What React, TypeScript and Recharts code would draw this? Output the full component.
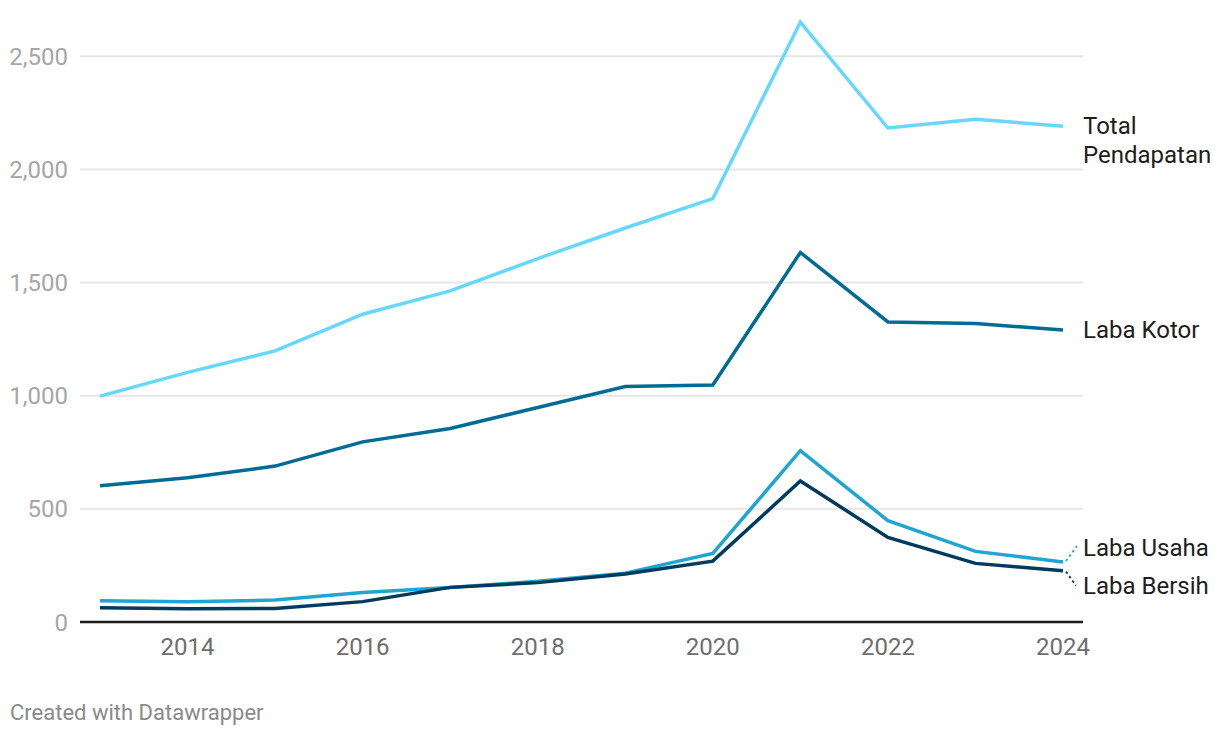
import { CartesianGrid, Line, LineChart, XAxis, YAxis } from "recharts";

const years = [2013, 2014, 2015, 2016, 2017, 2018, 2019, 2020, 2021, 2022, 2023, 2024];
const totalPendapatan = [998, 1103, 1198, 1360, 1463, 1606, 1741, 1871, 2651, 2183, 2222, 2191];
const labaKotor = [602, 637, 689, 796, 855, 948, 1041, 1047, 1633, 1326, 1319, 1290];
const labaUsaha = [94, 90, 97, 130, 152, 180, 216, 303, 757, 448, 312, 265];
const labaBersih = [63, 59, 60, 90, 153, 174, 212, 269, 623, 374, 259, 227];
const yTicks = [0, 500, 1000, 1500, 2000, 2500];
const xTicks = [2014, 2016, 2018, 2020, 2022, 2024];
const yMax = 2700;

const data = years.map((year, i) => ({
  year,
  total: totalPendapatan[i],
  kotor: labaKotor[i],
  usaha: labaUsaha[i],
  bersih: labaBersih[i],
}));

const FONT = "Roboto, 'Noto Sans', sans-serif";
const last = years.length - 1;

type LabelOpts = {
  lines: string[];
  dy: number;
  connector?: "up" | "down";
  color: string;
};

function endLabel(opts: LabelOpts) {
  return (props: any) => {
    const { x, y, index } = props;
    if (index !== last || x == null || y == null) return <g key={`e-${index}`} />;
    const tx = x + 20;
    return (
      <g key={`e-${index}`}>
        {opts.connector === "up" && (
          <line x1={x + 3} y1={y - 1} x2={x + 14} y2={y - 16} stroke={opts.color} strokeWidth={1.8} strokeDasharray="2.5 3" />
        )}
        {opts.connector === "down" && (
          <line x1={x + 3} y1={y + 1} x2={x + 13} y2={y + 15} stroke={opts.color} strokeWidth={1.8} strokeDasharray="2.5 3" />
        )}
        <text x={tx} y={y + opts.dy} fill="#1d1d1d" fontSize={24} fontFamily={FONT}>
          {opts.lines.map((l, i) => (
            <tspan key={l} x={tx} dy={i === 0 ? 0 : 28.5}>
              {l}
            </tspan>
          ))}
        </text>
      </g>
    );
  };
}

// grid only at the labelled ticks (skip the plot's top edge)
const gridRows = ({ offset }: any) => {
  const top = offset?.top ?? 11;
  const h = offset?.height ?? 611;
  return yTicks.map((t) => top + h * (1 - t / yMax));
};

export default function App() {
  return (
    <div style={{ position: "fixed", left: 0, top: 0, width: 1220, height: 738, background: "#fff", fontFamily: FONT }}>
      <LineChart width={1220} height={738} data={data} margin={{ top: 11, right: 137, bottom: 86, left: 0 }}>
        <CartesianGrid vertical={false} stroke="#e6e6e6" strokeWidth={2} horizontalCoordinatesGenerator={gridRows} />
        <XAxis
          dataKey="year"
          type="number"
          domain={[2013, 2024]}
          ticks={xTicks}
          padding={{ left: 20, right: 20 }}
          axisLine={{ stroke: "#1d1d1d", strokeWidth: 2.5 }}
          tickLine={false}
          tickSize={0}
          tickMargin={16}
          tick={{ fontSize: 24, fill: "#6e6e6e", fontFamily: FONT }}
        />
        <YAxis
          width={80}
          domain={[0, yMax]}
          ticks={yTicks}
          axisLine={false}
          tickLine={false}
          tickSize={0}
          tickMargin={12}
          tickFormatter={(v: number) => v.toLocaleString("en-US")}
          tick={{ fontSize: 24, fill: "#a6a6a6", fontFamily: FONT }}
        />
        <Line
          type="linear"
          dataKey="total"
          stroke="#66d8ff"
          strokeWidth={3.5}
          dot={false}
          isAnimationActive={false}
          label={endLabel({ lines: ["Total", "Pendapatan"], dy: 8, color: "#66d8ff" })}
        />
        <Line
          type="linear"
          dataKey="kotor"
          stroke="#006c96"
          strokeWidth={3.5}
          dot={false}
          isAnimationActive={false}
          label={endLabel({ lines: ["Laba Kotor"], dy: 8, color: "#006c96" })}
        />
        <Line
          type="linear"
          dataKey="usaha"
          stroke="#1ea6d3"
          strokeWidth={3.5}
          dot={false}
          isAnimationActive={false}
          label={endLabel({ lines: ["Laba Usaha"], dy: -6, connector: "up", color: "#1ea6d3" })}
        />
        <Line
          type="linear"
          dataKey="bersih"
          stroke="#003b5e"
          strokeWidth={3.5}
          dot={false}
          isAnimationActive={false}
          label={endLabel({ lines: ["Laba Bersih"], dy: 23, connector: "down", color: "#003b5e" })}
        />
      </LineChart>
      <div style={{ position: "absolute", left: 10, top: 702, fontSize: 22, lineHeight: 1, color: "#8a8a8a" }}>
        Created with Datawrapper
      </div>
    </div>
  );
}
